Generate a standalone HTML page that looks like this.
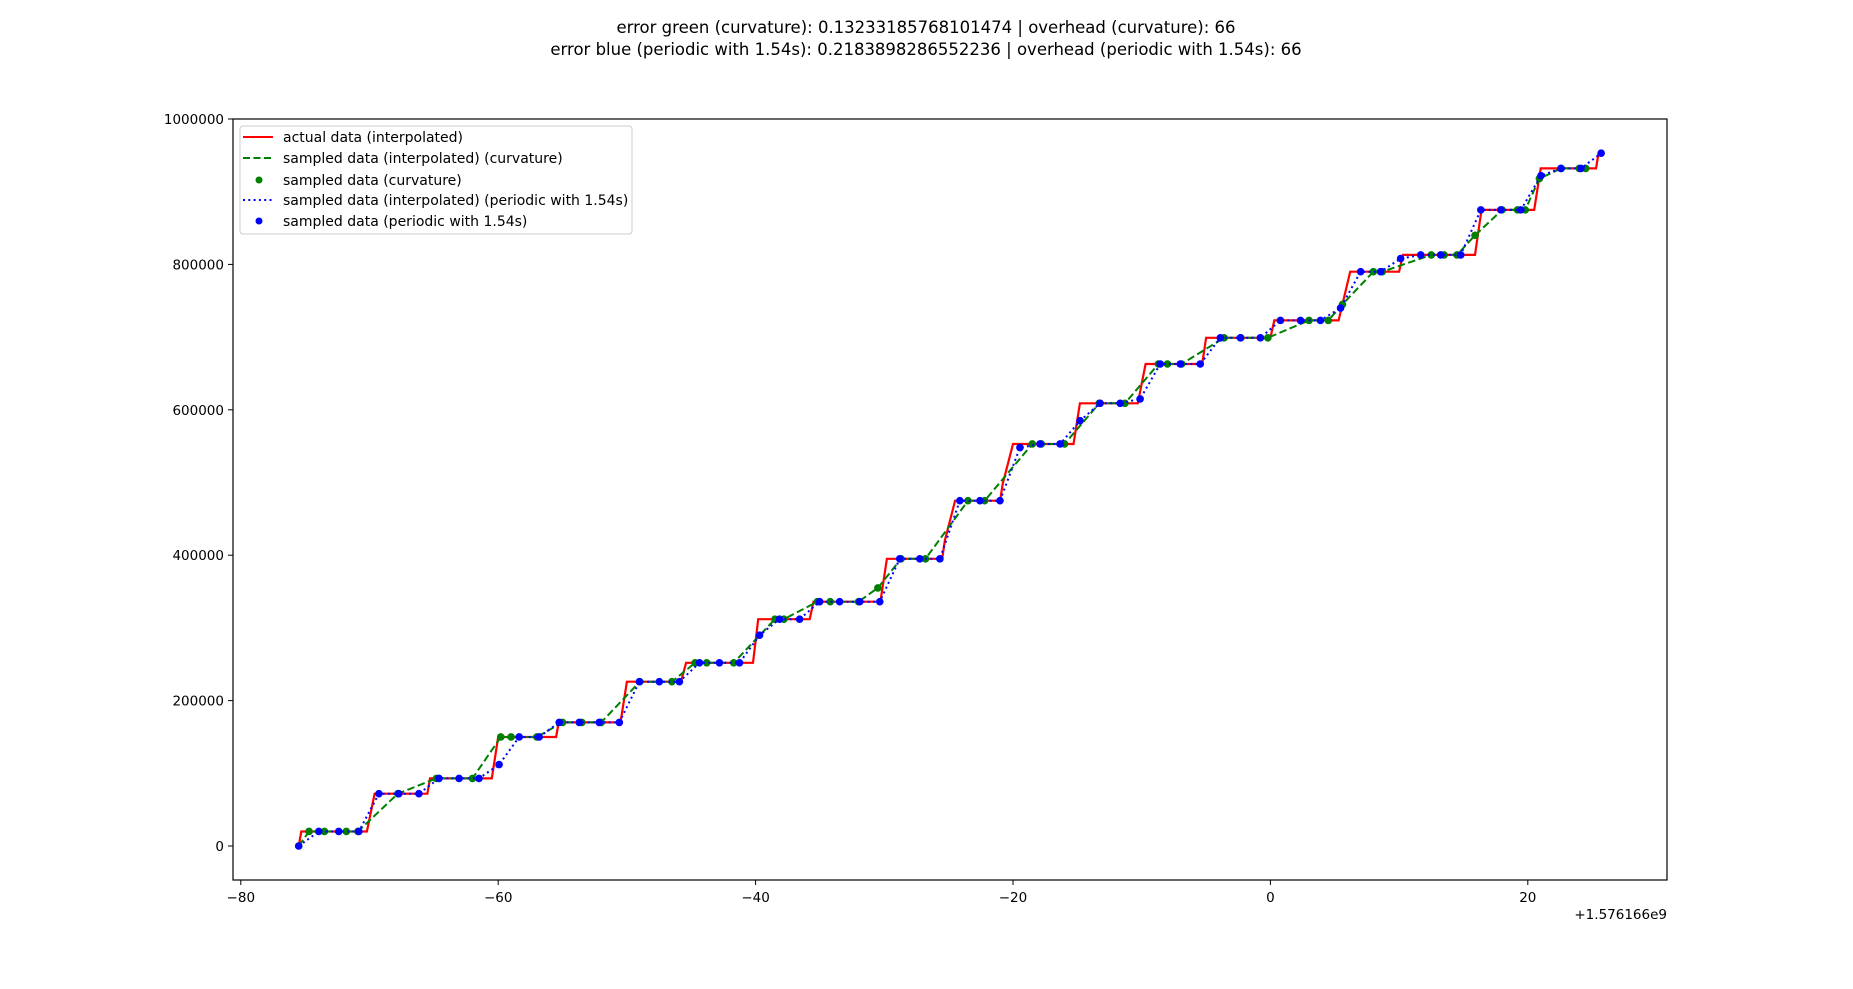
<!DOCTYPE html>
<html><head><meta charset="utf-8"><style>
html,body{margin:0;padding:0;background:#fff;}
svg{display:block;font-family:"DejaVu Sans","Liberation Sans",sans-serif;}
</style></head><body>
<svg id="chart" width="1853" height="989" xmlns="http://www.w3.org/2000/svg">
<text x="926" y="33" text-anchor="middle" font-size="16.5">error green (curvature): 0.13233185768101474 | overhead (curvature): 66</text>
<text x="926" y="55" text-anchor="middle" font-size="16.5">error blue (periodic with 1.54s): 0.2183898286552236 | overhead (periodic with 1.54s): 66</text>
<g id="plot"></g>
</svg>
<script>
const redX=[-75.5,-75.3,-70.2,-69.6,-65.5,-65.3,-60.5,-60.0,-55.5,-55.3,-50.5,-50.0,-45.8,-45.4,-40.2,-39.8,-35.8,-35.5,-30.3,-29.8,-25.5,-25.3,-24.5,-21.0,-20.8,-20.0,-15.3,-14.8,-10.3,-9.7,-5.3,-5.0,0.0,0.3,5.3,6.2,10.0,10.3,15.9,16.4,20.5,21.0,25.3,25.5];
const redY=[0,20000,20000,72000,72000,93000,93000,150000,150000,170000,170000,226000,226000,252000,252000,312000,312000,336000,336000,395000,395000,420000,475000,475000,498000,553000,553000,609000,609000,663000,663000,699000,699000,723000,723000,790000,790000,813000,813000,875000,875000,932000,932000,953000];
const greenX=[-75.5,-74.7,-73.5,-71.8,-70.9,-67.8,-64.8,-62.0,-59.8,-59.0,-57.0,-55.0,-53.5,-52.0,-49.0,-46.5,-44.7,-43.8,-41.7,-38.5,-37.8,-35.2,-34.2,-32.0,-30.5,-28.7,-26.8,-23.5,-22.2,-18.5,-17.8,-16.0,-13.3,-11.3,-8.7,-8.0,-6.9,-3.6,-2.3,-0.2,3.0,4.5,5.6,8.0,8.7,12.5,13.5,14.5,15.9,18.0,19.2,19.8,20.9,22.6,24.0,24.5];
const greenY=[0,20000,20000,20000,20000,72000,93000,93000,150000,150000,150000,170000,170000,170000,226000,226000,252000,252000,252000,312000,312000,336000,336000,336000,355000,395000,395000,475000,475000,553000,553000,553000,609000,609000,663000,663000,663000,699000,699000,699000,723000,723000,745000,790000,790000,813000,813000,813000,840000,875000,875000,875000,918000,932000,932000,932000];
const blueX=[-75.5,-73.94,-72.39,-70.83,-69.27,-67.72,-66.16,-64.6,-63.04,-61.49,-59.93,-58.37,-56.82,-55.26,-53.7,-52.15,-50.59,-49.03,-47.48,-45.92,-44.36,-42.81,-41.25,-39.69,-38.14,-36.58,-35.02,-33.47,-31.91,-30.35,-28.8,-27.24,-25.68,-24.13,-22.57,-21.01,-19.46,-17.9,-16.34,-14.79,-13.23,-11.67,-10.12,-8.56,-7.0,-5.45,-3.89,-2.33,-0.78,0.78,2.34,3.89,5.45,7.01,8.56,10.12,11.68,13.23,14.79,16.35,17.9,19.46,21.02,22.57,24.13,25.7];
const blueY=[0,20000,20000,20000,72000,72000,72000,93000,93000,93000,112000,150000,150000,170000,170000,170000,170000,226000,226000,226000,252000,252000,252000,290000,312000,312000,336000,336000,336000,336000,395000,395000,395000,475000,475000,475000,548000,553000,553000,585000,609000,609000,615000,663000,663000,663000,699000,699000,699000,723000,723000,723000,740000,790000,790000,808000,813000,813000,813000,875000,875000,875000,922000,932000,932000,953000];
const xTicks=[-80,-60,-40,-20,0,20];
const yTicks=[0,200000,400000,600000,800000,1000000];
const L=233,R=1667,T=119,B=880;
const X=v=>1270.4+(v)*12.87;
const Y=v=>846-v*(727/1000000);
const NS="http://www.w3.org/2000/svg";
const g=document.getElementById('plot');
function mk(tag,attrs,parent){const e=document.createElementNS(NS,tag);for(const k in attrs)e.setAttribute(k,attrs[k]);(parent||g).appendChild(e);return e;}
const clip=mk('clipPath',{id:'cp'});mk('rect',{x:L,y:T,width:R-L,height:B-T},clip);
const pts=(xs,ys)=>xs.map((x,i)=>X(x).toFixed(1)+','+Y(ys[i]).toFixed(1)).join(' ');
let e;
e=mk('polyline',{points:pts(redX,redY),fill:'none',stroke:'#ff0000','stroke-width':2.2,'clip-path':'url(#cp)'});


e=mk('polyline',{points:pts(greenX,greenY),fill:'none',stroke:'#008000','stroke-width':2,'stroke-dasharray':'7.5,3.5','clip-path':'url(#cp)'});


greenX.forEach((x,i)=>{const c=mk('circle',{cx:X(x),cy:Y(greenY[i]),r:3.8,fill:'#008000'});

});
e=mk('polyline',{points:pts(blueX,blueY),fill:'none',stroke:'#0000ff','stroke-width':2,'stroke-dasharray':'2,3.3','clip-path':'url(#cp)'});


blueX.forEach((x,i)=>{const c=mk('circle',{cx:X(x),cy:Y(blueY[i]),r:3.8,fill:'#0000ff'});

});
e=mk('rect',{x:L,y:T,width:R-L,height:B-T,fill:'none',stroke:'#000','stroke-width':1.2});


xTicks.forEach(v=>{mk('line',{x1:X(v),x2:X(v),y1:B,y2:B+5,stroke:'#000','stroke-width':1});
const t=mk('text',{x:X(v),y:B+22,'text-anchor':'middle','font-size':13.5});t.textContent=(v<0?'\u2212'+(-v):v);

});
yTicks.forEach(v=>{mk('line',{x1:L-5,x2:L,y1:Y(v),y2:Y(v),stroke:'#000','stroke-width':1});
const t=mk('text',{x:L-9,y:Y(v)+5,'text-anchor':'end','font-size':13.5});t.textContent=v;

});
e=mk('text',{x:R,y:919,'text-anchor':'end','font-size':13.5});e.textContent='+1.576166e9';


const lg=mk('g',{});


mk('rect',{x:240,y:126,width:392,height:108,rx:3,fill:'#fff','fill-opacity':0.8,stroke:'#ccc'},lg);
const items=[['actual data (interpolated)','line','#ff0000',''],['sampled data (interpolated) (curvature)','line','#008000','7,3.5'],['sampled data (curvature)','dot','#008000',''],['sampled data (interpolated) (periodic with 1.54s)','line','#0000ff','2,3.3'],['sampled data (periodic with 1.54s)','dot','#0000ff','']];
const ly=[137,158,180,200,221];
items.forEach((it,i)=>{
 if(it[1]==='line'){const a={x1:243,x2:273,y1:ly[i],y2:ly[i],stroke:it[2],'stroke-width':2};if(it[3])a['stroke-dasharray']=it[3];mk('line',a,lg);}
 else mk('circle',{cx:259,cy:ly[i],r:3.5,fill:it[2]},lg);
 const t=mk('text',{x:283,y:ly[i]+5,'font-size':14},lg);t.textContent=it[0];
 
 
});
</script>
</body></html>
